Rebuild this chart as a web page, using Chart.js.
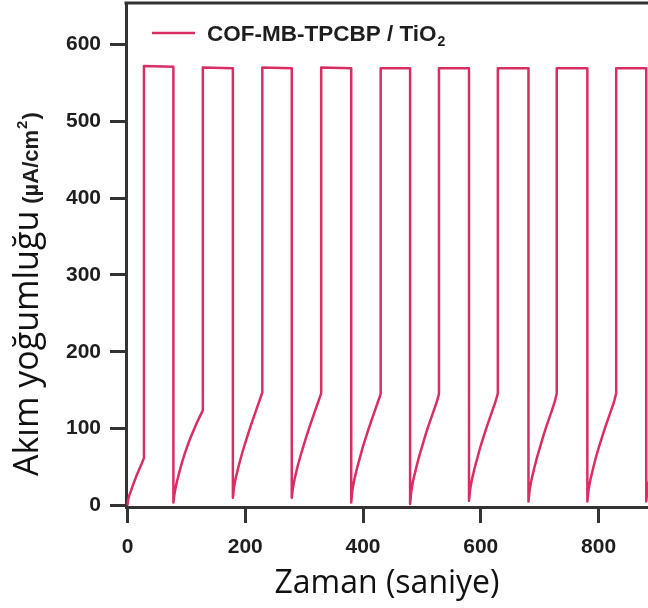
<!DOCTYPE html>
<html>
<head>
<meta charset="utf-8">
<script src="https://cdn.jsdelivr.net/npm/chart.js@4/dist/chart.umd.min.js"></script>
<style>
  html, body { margin: 0; padding: 0; background: #ffffff; overflow: hidden; }
  #wrap { width: 648px; height: 608px; }
</style>
</head>
<body>
<div id="wrap"><canvas id="chart" width="648" height="608"></canvas></div>
<script>
// Chopped-light photocurrent response: time (s) and current density (µA/cm²)
const seconds = [
  0, 1, 3, 6, 10, 15, 20, 25, 28,
  28, 78,
  78, 80, 83, 88, 93, 98, 103, 108, 113, 118, 123, 128,
  128, 179,
  179, 181, 184, 189, 194, 199, 204, 209, 214, 219, 224, 229,
  229, 279,
  279, 281, 284, 289, 294, 299, 304, 309, 314, 319, 324, 329,
  329, 380,
  380, 382, 385, 390, 395, 400, 405, 410, 415, 420, 425, 430,
  430, 480,
  480, 482, 485, 490, 495, 500, 505, 510, 515, 520, 525, 529,
  529, 580,
  580, 582, 585, 590, 595, 600, 605, 610, 615, 620, 625, 629,
  629, 681,
  681, 683, 686, 691, 696, 701, 706, 711, 716, 721, 726, 729,
  729, 781,
  781, 783, 786, 791, 796, 801, 806, 811, 816, 821, 826, 830,
  830, 881,
  881, 883, 886, 891
];
const current = [
  0, 7, 13, 19, 28, 38, 47, 56, 62,
  572, 571,
  4, 16, 28, 43, 57, 69, 80, 90, 99, 108, 116, 124,
  570, 569,
  10, 24, 36, 52, 66, 79, 91, 103, 114, 125, 136, 147,
  570, 569,
  10, 23, 35, 51, 65, 78, 90, 102, 113, 124, 135, 146,
  570, 569,
  4, 20, 33, 49, 63, 77, 89, 101, 112, 123, 134, 145,
  569, 569,
  2, 18, 32, 48, 63, 76, 89, 101, 112, 123, 134, 145,
  569, 569,
  6, 21, 34, 50, 64, 78, 90, 102, 113, 124, 135, 146,
  569, 569,
  5, 20, 33, 49, 64, 77, 90, 102, 113, 124, 136, 146,
  569, 569,
  5, 20, 33, 49, 64, 77, 89, 101, 112, 123, 134, 146,
  569, 569,
  5, 20, 33, 45
];
const xTicks = [0, 200, 400, 600, 800];
const yTicks = [0, 100, 200, 300, 400, 500, 600];

const seriesName = 'COF-MB-TPCBP / TiO';
const seriesSub = '2';
const xTitle = 'Zaman (saniye)';
const yTitle = 'Akım yoğumluğu';
const yUnitParts = ['(µA/cm', '2', ')'];

const lineColor = '#d92e63';
const axisColor = '#333333';
const textColor = '#1e1e1e';
const boldFont = '"Liberation Sans", Arial, sans-serif';
const titleFont = '"Open Sans", "Noto Sans", sans-serif';

// top frame line, legend entry and the mixed-size y-axis title
const decorations = {
  id: 'decorations',
  afterDraw(chart) {
    const { ctx, chartArea } = chart;
    ctx.save();
    // top spine
    ctx.strokeStyle = axisColor;
    ctx.lineWidth = 3;
    ctx.beginPath();
    ctx.moveTo(chartArea.left - 1.5, chartArea.top);
    ctx.lineTo(chartArea.right, chartArea.top);
    ctx.stroke();

    // legend
    const ly = 33;
    ctx.strokeStyle = lineColor;
    ctx.lineWidth = 2.5;
    ctx.beginPath();
    ctx.moveTo(152, ly);
    ctx.lineTo(195, ly);
    ctx.stroke();
    ctx.fillStyle = textColor;
    ctx.textBaseline = 'alphabetic';
    ctx.textAlign = 'left';
    ctx.font = 'bold 22.5px ' + boldFont;
    ctx.fillText(seriesName, 207, 41);
    const w = ctx.measureText(seriesName).width;
    ctx.font = 'bold 14px ' + boldFont;
    ctx.fillText(seriesSub, 207 + w + 1, 46);

    // y-axis title, rotated
    ctx.translate(38, 476);
    ctx.rotate(-Math.PI / 2);
    ctx.font = '34px ' + titleFont;
    ctx.fillStyle = '#111111';
    ctx.fillText(yTitle, 0, 0);
    let x = ctx.measureText(yTitle).width + 7;
    ctx.font = 'bold 22px ' + boldFont;
    ctx.fillStyle = textColor;
    ctx.fillText(yUnitParts[0], x, 0);
    x += ctx.measureText(yUnitParts[0]).width;
    ctx.font = 'bold 15px ' + boldFont;
    ctx.fillText(yUnitParts[1], x + 1, -11);
    x += ctx.measureText(yUnitParts[1]).width + 2;
    ctx.font = 'bold 22px ' + boldFont;
    ctx.fillText(yUnitParts[2], x, 0);
    ctx.restore();
  }
};

const points = seconds.map((t, i) => ({ x: t, y: current[i] }));

new Chart(document.getElementById('chart'), {
  type: 'line',
  data: {
    datasets: [{
      label: seriesName + seriesSub,
      data: points,
      borderColor: lineColor,
      borderWidth: 2.5,
      borderJoinStyle: 'round',
      pointRadius: 0,
      tension: 0,
      fill: false
    }]
  },
  options: {
    responsive: false,
    devicePixelRatio: 1,
    animation: false,
    layout: { padding: { left: 0, right: 0, top: 3, bottom: 0 } },
    plugins: {
      legend: { display: false },
      tooltip: { enabled: false }
    },
    scales: {
      x: {
        type: 'linear',
        min: -2.5,
        max: 884,
        afterBuildTicks: s => { s.ticks = xTicks.map(v => ({ value: v })); },
        afterFit: s => { s.height = 101; s.paddingLeft = 0; s.paddingRight = 0; },
        ticks: {
          font: { family: boldFont, size: 21, weight: 'bold' },
          color: textColor,
          padding: 12,
          maxRotation: 0
        },
        grid: {
          display: true,
          drawOnChartArea: false,
          drawTicks: true,
          tickLength: 16,
          tickWidth: 3,
          tickColor: axisColor
        },
        border: { display: true, color: axisColor, width: 3 },
        title: {
          display: true,
          text: xTitle,
          color: '#111111',
          font: { family: titleFont, size: 32, lineHeight: 1.2 },
          padding: { top: 0, bottom: 5 }
        }
      },
      y: {
        type: 'linear',
        min: -2,
        max: 654,
        afterBuildTicks: s => { s.ticks = yTicks.map(v => ({ value: v })); },
        afterFit: s => { s.width = 126; s.paddingTop = 0; s.paddingBottom = 0; },
        ticks: {
          font: { family: boldFont, size: 21, weight: 'bold' },
          color: textColor,
          padding: 9
        },
        grid: {
          display: true,
          drawOnChartArea: false,
          drawTicks: true,
          tickLength: 16,
          tickWidth: 3,
          tickColor: axisColor
        },
        border: { display: true, color: axisColor, width: 3 }
      }
    }
  },
  plugins: [decorations]
});
</script>
</body>
</html>
